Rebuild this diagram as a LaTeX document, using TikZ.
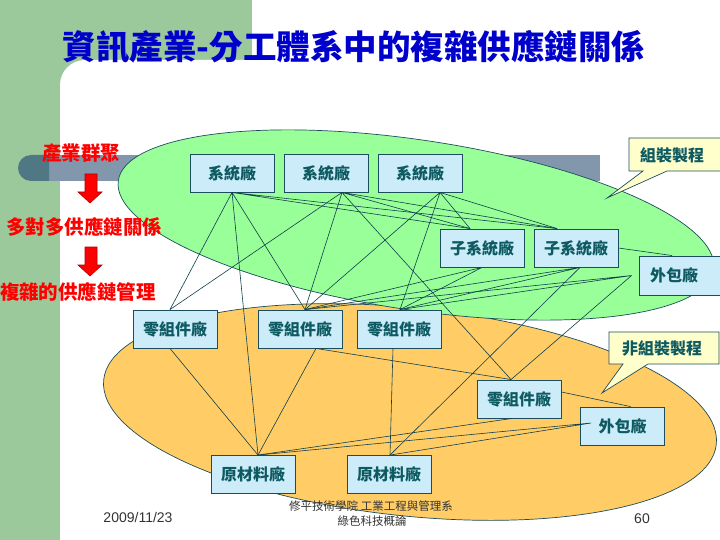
\documentclass[tikz,border=0pt]{standalone}
\usepackage{fontspec}
\setmainfont{Liberation Sans}
\newfontfamily\cjk{Noto Sans CJK TC}
\usetikzlibrary{calc}
\definecolor{bggreen}{HTML}{9CC99B}
\definecolor{ellgreen}{HTML}{99FF99}
\definecolor{ellorange}{HTML}{FFCC66}
\definecolor{boxfill}{HTML}{CCECFA}
\definecolor{boxline}{HTML}{1D4D5C}
\definecolor{boxtext}{HTML}{0E5A61}
\definecolor{linkc}{HTML}{0F3F4C}
\definecolor{titleblue}{HTML}{0000CC}
\definecolor{callfill}{HTML}{FFFFCC}
\definecolor{bardark}{HTML}{4F7884}
\definecolor{barlight}{HTML}{8296AC}
\definecolor{footc}{HTML}{333333}
\begin{document}
\begin{tikzpicture}[x=1pt,y=-1pt,
  firm/.style={draw=boxline, fill=boxfill, line width=0.9pt, minimum width=84pt,
    minimum height=38pt, inner sep=0pt, font=\cjk\bfseries\fontsize{16}{16}\selectfont, text=boxtext},
  linkline/.style={draw=linkc, line width=0.6pt},
  redlabel/.style={font=\cjk\bfseries\fontsize{19.5}{20}\selectfont, text=red, inner sep=0pt},
  calloutbox/.style={draw=boxline, fill=callfill, line width=0.7pt},
  calloutlabel/.style={font=\cjk\bfseries\fontsize{16}{16}\selectfont, text=boxtext, inner sep=0pt},
  redarrow/.style={fill=red, draw=red!70!black, line width=0.6pt},
  foottext/.style={text=footc, inner sep=0pt}]
\useasboundingbox (0,0) rectangle (720,540);
% background
\fill[white] (0,0) rectangle (720,540);
\fill[bggreen] (0,0) rectangle (60,540);
\fill[bggreen] (0,0) rectangle (252,85);
\fill[white] (60,540) -- (60,85) arc[start angle=180,end angle=270,radius=25] -- (720,60) -- (720,540) -- cycle;
% title
\node[font=\cjk\bfseries\fontsize{33.5}{34}\selectfont, text=titleblue, inner sep=0pt] (title) at (354,47) {資訊產業-分工體系中的複雜供應鏈關係};
% bar
\fill[barlight] (49,155) rectangle (600,181);
\fill[bardark] (31,155) -- (49,155) -- (49,181) -- (31,181) arc[start angle=90,end angle=270,radius=13] -- cycle;
% ellipses
\filldraw[fill=ellorange, draw=boxline, line width=0.7pt, rotate around={-6:(410,412)}] (410,412) ellipse [x radius=308, y radius=104];
\filldraw[fill=ellgreen, draw=boxline, line width=0.7pt, rotate around={-8.5:(416,225)}] (416,225) ellipse [x radius=301, y radius=85];
% callouts
\path[calloutbox] (629,138) -- (724,138) -- (724,171) -- (667,171) -- (607,198) -- (643,171) -- (629,171) -- cycle;
\node[calloutlabel] (asm) at (672,155) {組裝製程};
\path[calloutbox] (609,332) -- (719,332) -- (719,364) -- (648,364) -- (602,393) -- (623,364) -- (609,364) -- cycle;
\node[calloutlabel] (nonasm) at (662,348) {非組裝製程};
% left labels and arrows
\node[redlabel] (cluster) at (81,153) {產業群聚};
\node[redlabel] (many) at (84,227) {多對多供應鏈關係};
\node[redlabel] (complex) at (78,292) {複雜的供應鏈管理};
\path[redarrow] (85,174) -- (97,174) -- (97,192) -- (102,192) -- (90,203) -- (78,192) -- (85,192) -- cycle;
\path[redarrow] (85,247) -- (97,247) -- (97,265) -- (102,265) -- (90,276) -- (78,265) -- (85,265) -- cycle;
% firms
\node[firm] (S1) at (232,173) {系統廠};
\node[firm] (S2) at (326,173) {系統廠};
\node[firm] (S3) at (420,173) {系統廠};
\node[firm] (SS1) at (482,248) {子系統廠};
\node[firm] (SS2) at (576,248) {子系統廠};
\node[firm, text width=70pt, align=left, inner xsep=11pt, minimum height=39pt] (W1) at (685,275.5) {外包廠};
\node[firm] (Z1) at (175,329) {零組件廠};
\node[firm] (Z2) at (300,329) {零組件廠};
\node[firm] (Z3) at (399,329) {零組件廠};
\node[firm] (Z4) at (519,399) {零組件廠};
\node[firm] (W2) at (622.5,426) {外包廠};
\node[firm] (R1) at (253,474.5) {原材料廠};
\node[firm] (R2) at (389,474.5) {原材料廠};
% connection points
\coordinate (s1b) at (S1.south);
\coordinate (s2b) at ($(S2.south)+(16,0)$);
\coordinate (s3b) at ($(S3.south)+(20,0)$);
\coordinate (ss1t) at ($(SS1.north)+(-12,0)$);
\coordinate (ss2t) at ($(SS2.north)+(-19,0)$);
\coordinate (ss1b) at (SS1.south);
\coordinate (ss2b) at ($(SS2.south)+(4,0)$);
\coordinate (w1t) at ($(W1.north)+(-13,0)$);
\coordinate (w1a) at ($(W1.west)+(-7,0)$);
\coordinate (z1t) at ($(Z1.north)+(-5,0)$);
\coordinate (z1b) at ($(Z1.south)+(-5,0)$);
\coordinate (z2t) at ($(Z2.north)+(5,0)$);
\coordinate (z2b) at ($(Z2.south)+(16,0)$);
\coordinate (z3t) at ($(Z3.north)+(1,0)$);
\coordinate (z3b) at ($(Z3.south)+(-6,0)$);
\coordinate (z4t) at ($(Z4.north)+(-8,0)$);
\coordinate (z4b) at ($(Z4.south)+(-7,0)$);
\coordinate (z4e) at ($(Z4.east)+(0,-7)$);
\coordinate (w2t) at ($(W2.north)+(8,0)$);
\coordinate (w2a) at ($(W2.west)+(11,-3)$);
\coordinate (r1t) at ($(R1.north)+(5,0)$);
\coordinate (r2t) at ($(R2.north)+(1,0)$);
% connectors
\path[linkline] (s1b) -- (z1t) (s1b) -- (r1t) (s1b) -- (z2t) (s1b) -- (ss1t) (s1b) -- (ss2t);
\path[linkline] (s2b) -- (z1t) (s2b) -- (z2t) (s2b) -- (z4t) (s2b) -- (ss1t) (s2b) -- (ss2t);
\path[linkline] (s3b) -- (ss1t) (s3b) -- (ss2t) (s3b) -- (z2t) (s3b) -- (z3t);
\path[linkline] (ss1b) -- (z2t) (ss1b) -- (z3t);
\path[linkline] (ss2b) -- (z2t) (ss2b) -- (z3t) (ss2b) -- (r2t);
\path[linkline] (SS2.east) -- (w1t);
\path[linkline] (w1a) -- (z2t) (w1a) -- (z3t) (w1a) -- (z4t);
\path[linkline] (z1b) -- (r1t);
\path[linkline] (z2b) -- (r1t) (z2b) -- (z4t);
\path[linkline] (z3b) -- (r2t);
\path[linkline] (z4b) -- (r1t);
\path[linkline] (z4e) -- (w2t);
\path[linkline] (w2a) -- (r1t) (w2a) -- (r2t);
% footer
\node[foottext, font=\fontsize{14}{14}\selectfont] (date) at (138,517) {2009/11/23};
\node[foottext, font=\cjk\fontsize{11.5}{12}\selectfont] (school) at (371,506) {修平技術學院 工業工程與管理系};
\node[foottext, font=\cjk\fontsize{11.5}{12}\selectfont] (course) at (372,521) {綠色科技概論};
\node[foottext, font=\fontsize{14}{14}\selectfont] (page) at (642,519) {60};
\end{tikzpicture}
\end{document}
